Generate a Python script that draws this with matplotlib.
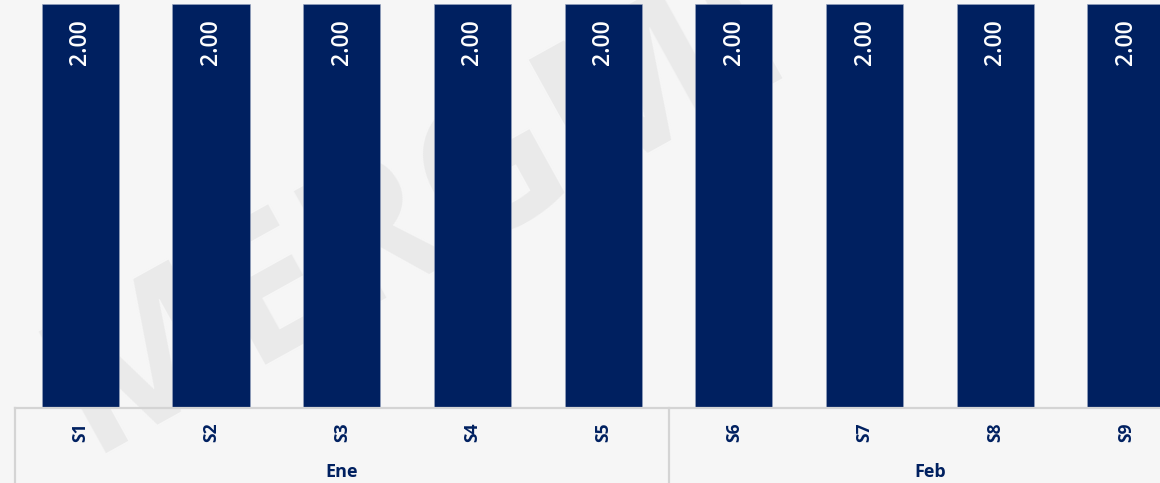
import matplotlib
matplotlib.use("Agg")
import matplotlib.pyplot as plt
from matplotlib import transforms

# weekly values, grouped by month
weeks = ["S1", "S2", "S3", "S4", "S5", "S6", "S7", "S8", "S9"]
values = [2.00, 2.00, 2.00, 2.00, 2.00, 2.00, 2.00, 2.00, 2.00]
months = ["Ene", "Feb"]
month_sizes = [5, 4]

NAVY = "#002060"
SEP = "#d4d4d4"
BG = "#f6f6f6"

plt.rcParams["font.family"] = ["Open Sans", "DejaVu Sans"]

W, H = 1160, 483
fig = plt.figure(figsize=(W / 100, H / 100), dpi=100, facecolor=BG)

# faint watermark behind the plot
fig.text(0.36, 0.56, "MERGMI", fontsize=140, fontweight="bold", color="#eaeaea",
         rotation=29, ha="center", va="center", zorder=0)

# plot area runs past the right edge of the canvas (last group is cut off)
slot = 130.7
x0, base = 15, 407.5
ax = fig.add_axes([x0 / W, (H - base) / H, len(weeks) * slot / W, base / H])
ax.set_facecolor("none")
ax.set_zorder(2)

x = list(range(len(weeks)))
bars = ax.bar(x, values, width=0.59, color=NAVY, edgecolor="#9aa6c0", linewidth=0.4, zorder=2)
ax.set_xlim(-0.5, len(weeks) - 0.5)
ax.set_ylim(0, 2.0 * base / (base - 3.5))

for b, v in zip(bars, values):
    ax.annotate(f"{v:.2f}", (b.get_x() + b.get_width() / 2, v), xytext=(0, -11),
                textcoords="offset points", rotation=90, ha="center", va="top",
                color="white", fontsize=16.5, fontweight="semibold", zorder=3)

ax.set_xticks(x)
ax.set_xticklabels(weeks, rotation=90, fontsize=12.5, fontweight="bold", color=NAVY)
ax.tick_params(axis="x", length=0, pad=11)
ax.set_yticks([])
for s in ("top", "right", "left"):
    ax.spines[s].set_visible(False)
ax.spines["bottom"].set_color(SEP)
ax.spines["bottom"].set_linewidth(1.6)

# month band under the week labels
tr = transforms.blended_transform_factory(ax.transData, ax.transAxes)
start = -0.5
edges = [start]
for name, n in zip(months, month_sizes):
    ax.text(start + n / 2, -0.158, name, transform=tr, ha="center", va="center",
            fontsize=13, fontweight="bold", color=NAVY)
    start += n
    edges.append(start)
for e in edges[:-1]:
    ax.plot([e, e], [0, -0.3], transform=tr, color=SEP, lw=1.6, clip_on=False)

fig.savefig("out.png", dpi=100, facecolor=BG)
